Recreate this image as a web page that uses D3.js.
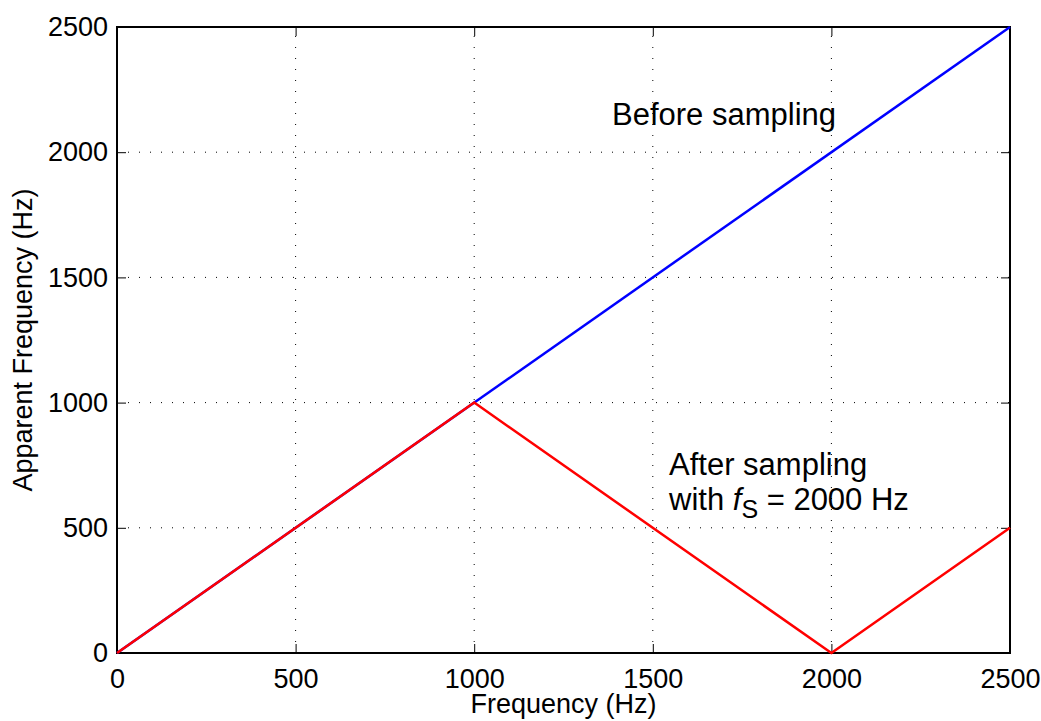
<!DOCTYPE html>
<html>
<meta charset="utf-8">
<title>Apparent frequency</title>
<style>
  body { margin: 0; background: #fff; }
  svg text { font-family: "Liberation Sans", Arial, sans-serif; fill: #000; }
  .grid line { stroke: #000; stroke-width: 1; stroke-dasharray: 1,10; }
</style>
<script src="https://d3js.org/d3.v7.min.js"></script>
<body>
<script>
// data
var beforeX = [0, 2500];
var beforeY = [0, 2500];
var afterX = [0, 1000, 2000, 2500];
var afterY = [0, 1000, 0, 500];
var xTicks = [0, 500, 1000, 1500, 2000, 2500];
var yTicks = [0, 500, 1000, 1500, 2000, 2500];

var W = 1041, H = 721;
var margin = {top: 27, right: 31, bottom: 68, left: 117};
var width = W - margin.left - margin.right,
    height = H - margin.top - margin.bottom;

var svg = d3.select('body').append('svg')
    .attr('width', W).attr('height', H);
var g = svg.append('g')
    .attr('transform', 'translate(' + margin.left + ',' + margin.top + ')');

var x = d3.scaleLinear().domain([0, 2500]).range([0, width]);
var y = d3.scaleLinear().domain([0, 2500]).range([height, 0]);

// dotted grid
var grid = g.append('g').attr('class', 'grid');
grid.selectAll('.vx').data(xTicks.slice(1, -1)).enter().append('line')
    .attr('x1', d => x(d)).attr('x2', d => x(d))
    .attr('y1', height).attr('y2', 0);
grid.selectAll('.hy').data(yTicks.slice(1, -1)).enter().append('line')
    .attr('y1', d => y(d)).attr('y2', d => y(d))
    .attr('x1', 0).attr('x2', width);

// axes (ticks inward, box all round)
var fmt = d3.format('d');
function styleAxis(sel) {
  sel.select('.domain').remove();
  sel.selectAll('line').attr('stroke', '#000').attr('stroke-width', 1);
  sel.selectAll('text').style('font-size', '27px')
     .style('font-family', '"Liberation Sans", Arial, sans-serif');
}
g.append('g').attr('transform', 'translate(0,' + height + ')')
  .call(d3.axisBottom(x).tickValues(xTicks).tickFormat(fmt).tickSizeInner(-9).tickPadding(16))
  .call(styleAxis);
g.append('g')
  .call(d3.axisLeft(y).tickValues(yTicks).tickFormat(fmt).tickSizeInner(-9).tickPadding(9))
  .call(styleAxis);
g.append('g')
  .call(d3.axisTop(x).tickValues(xTicks).tickFormat('').tickSizeInner(-9))
  .call(styleAxis);
g.append('g').attr('transform', 'translate(' + width + ',0)')
  .call(d3.axisRight(y).tickValues(yTicks).tickFormat('').tickSizeInner(-9))
  .call(styleAxis);

g.append('rect').attr('width', width).attr('height', height)
  .attr('fill', 'none').attr('stroke', '#000').attr('stroke-width', 2);

// lines
var line = d3.line().x(d => x(d[0])).y(d => y(d[1]));
g.append('path').datum(d3.zip(beforeX, beforeY))
  .attr('d', line).attr('fill', 'none').attr('stroke', '#0000ff').attr('stroke-width', 2.5);
g.append('path').datum(d3.zip(afterX, afterY))
  .attr('d', line).attr('fill', 'none').attr('stroke', '#ff0000').attr('stroke-width', 2.5);

// annotations
svg.append('text').attr('x', 612).attr('y', 125)
  .style('font-size', '31px').text('Before sampling');
svg.append('text').attr('x', 669).attr('y', 475)
  .style('font-size', '31px').text('After sampling');
var t = svg.append('text').attr('x', 669).attr('y', 510).style('font-size', '31px');
t.append('tspan').text('with ');
t.append('tspan').style('font-style', 'italic').text('f');
t.append('tspan').attr('dy', 8).style('font-size', '25px').text('S');
t.append('tspan').attr('dy', -8).text(' = 2000 Hz');

// axis labels
svg.append('text')
  .attr('x', margin.left + width / 2).attr('y', 713)
  .style('text-anchor', 'middle').style('font-size', '27px')
  .text('Frequency (Hz)');
svg.append('text')
  .attr('transform', 'translate(32,' + (margin.top + height / 2) + ') rotate(-90)')
  .style('text-anchor', 'middle').style('font-size', '27px')
  .text('Apparent Frequency (Hz)');
</script>
</body>
</html>
